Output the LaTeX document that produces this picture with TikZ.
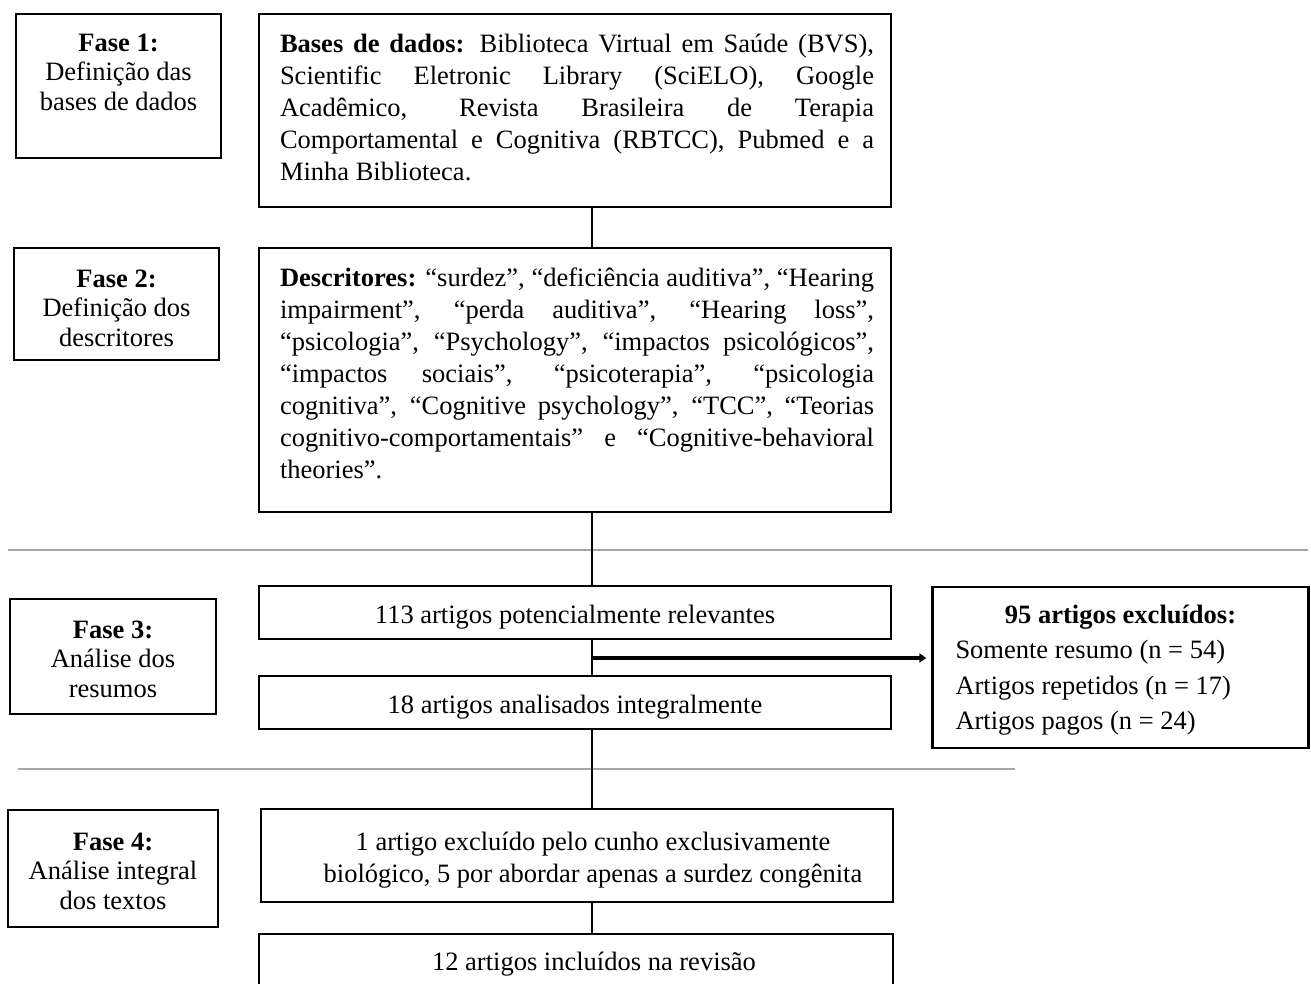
\documentclass[tikz,border=0pt]{standalone}
\usepackage{fontspec}
\setmainfont{Liberation Serif}
\usetikzlibrary{arrows.meta}
\begin{document}
\begin{tikzpicture}[x=1pt,y=-1pt,
  box/.style={draw, line width=2.3pt, inner sep=0pt},
  phasetext/.style={align=center, inner sep=0pt, font=\fontsize{26.5}{29.5}\selectfont},
  bodytext/.style={align=justify, inner sep=0pt, text width=594pt, font=\fontsize{26.5}{32}\selectfont},
  linetext/.style={align=center, inner sep=0pt, font=\fontsize{26.5}{32}\selectfont},
  conn/.style={line width=2.3pt},
  sep/.style={line width=2pt, draw=black!35},
  arr/.style={line width=4pt, -{Stealth[length=7pt,width=9pt,inset=0pt]}, shorten >=5pt}]
\useasboundingbox (0,0) rectangle (1311,984);

% phase boxes
\node[box, minimum width=205pt, minimum height=144pt] (f1) at (118.5,86) {};
\node[phasetext] (f1t) at (118.5,72) {\textbf{Fase 1:}\\Definição das\\bases de dados};
\node[box, minimum width=205pt, minimum height=112pt] (f2) at (116.5,304) {};
\node[phasetext] (f2t) at (116.5,308) {\textbf{Fase 2:}\\Definição dos\\descritores};
\node[box, minimum width=206pt, minimum height=115pt] (f3) at (113,656.5) {};
\node[phasetext] (f3t) at (113,659) {\textbf{Fase 3:}\\Análise dos\\resumos};
\node[box, minimum width=210pt, minimum height=117pt] (f4) at (113,868.5) {};
\node[phasetext] (f4t) at (113,871) {\textbf{Fase 4:}\\Análise integral\\dos textos};

% main boxes
\node[box, minimum width=632pt, minimum height=193pt] (bases) at (575,110.5) {};
\node[bodytext] (basest) at (577,107) {\textbf{Bases de dados:} Biblioteca Virtual em Saúde (BVS),\linebreak
Scientific Eletronic Library (SciELO), Google\linebreak
Acadêmico, Revista Brasileira de Terapia\linebreak
Comportamental e Cognitiva (RBTCC), Pubmed e a\linebreak
Minha Biblioteca.};

\node[box, minimum width=632pt, minimum height=264pt] (descr) at (575,380) {};
\node[bodytext] (descrt) at (577,373) {\textbf{Descritores:} “surdez”, “deficiência auditiva”, “Hearing\linebreak
impairment”, “perda auditiva”, “Hearing loss”,\linebreak
“psicologia”, “Psychology”, “impactos psicológicos”,\linebreak
“impactos sociais”, “psicoterapia”, “psicologia\linebreak
cognitiva”, “Cognitive psychology”, “TCC”, “Teorias\linebreak
cognitivo-comportamentais” e “Cognitive-behavioral\linebreak
theories”.};

\node[box, minimum width=632pt, minimum height=53pt] (a113) at (575,612.5) {};
\node[linetext] (a113t) at (575,617) {113 artigos potencialmente relevantes};
\node[box, minimum width=632pt, minimum height=53pt] (a18) at (575,702.5) {};
\node[linetext] (a18t) at (575,707) {18 artigos analisados integralmente};

\node[box, minimum width=376pt, minimum height=161pt] (excl) at (1120.5,667.5) {};
\node[align=left, inner sep=0pt, font=\fontsize{26.5}{35.3}\selectfont] (exclt) at (1120.5,670)
  {\makebox[330pt]{\textbf{95 artigos excluídos:}}\\Somente resumo (n = 54)\\Artigos repetidos (n = 17)\\Artigos pagos (n = 24)};

\node[box, minimum width=632pt, minimum height=93pt] (a1) at (577,855.5) {};
\node[linetext] (a1t) at (593,860.5) {1 artigo excluído pelo cunho exclusivamente\\biológico, 5 por abordar apenas a surdez congênita};

\node[box, minimum width=634pt, minimum height=60pt] (a12) at (576,964) {};
\node[linetext] (a12t) at (594,964) {12 artigos incluídos na revisão};

% separators
\coordinate (s1a) at (8,550);
\coordinate (s1b) at (1308,550);
\coordinate (s2a) at (18,769);
\coordinate (s2b) at (1015,769);
\draw[sep] (s1a) -- (s1b);
\draw[sep] (s2a) -- (s2b);

% connectors
\coordinate (cx) at (592,0);
\coordinate (ay) at (0,658);
\draw[conn] (bases.south -| cx) -- (descr.north -| cx);
\draw[conn] (descr.south -| cx) -- (a113.north -| cx);
\draw[conn] (a113.south -| cx) -- (a18.north -| cx);
\draw[conn] (a18.south -| cx) -- (a1.north -| cx);
\draw[conn] (a1.south -| cx) -- (a12.north -| cx);
\draw[arr] (cx |- ay) -- (excl.west |- ay);
\end{tikzpicture}
\end{document}
